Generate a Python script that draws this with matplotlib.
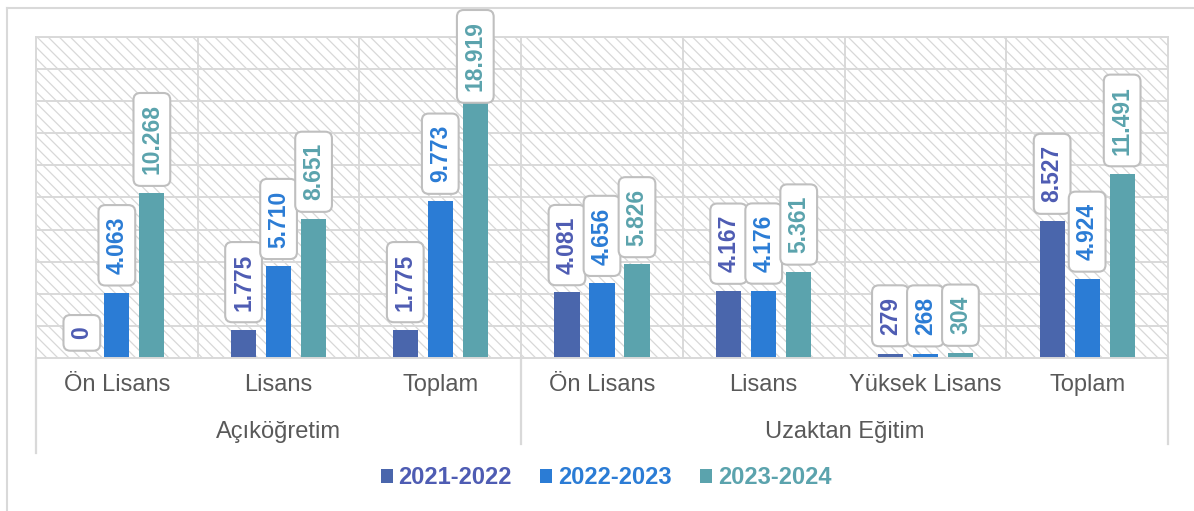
import matplotlib
matplotlib.use("Agg")
import matplotlib.pyplot as plt
from matplotlib.patches import Rectangle, Patch, BoxStyle
from matplotlib.lines import Line2D
from matplotlib.transforms import blended_transform_factory
import numpy as np

# ---- data ----
categories = ["Ön Lisans", "Lisans", "Toplam", "Ön Lisans", "Lisans", "Yüksek Lisans", "Toplam"]
groups = ["Açıköğretim", "Uzaktan Eğitim"]
group_sizes = [3, 4]
series_names = ["2021-2022", "2022-2023", "2023-2024"]
s_2021_2022 = [0, 1775, 1775, 4081, 4167, 279, 8527]
s_2022_2023 = [4063, 5710, 9773, 4656, 4176, 268, 4924]
s_2023_2024 = [10268, 8651, 18919, 5826, 5361, 304, 11491]

series = [s_2021_2022, s_2022_2023, s_2023_2024]
colors = ["#4A66AC", "#2B7CD5", "#5BA3AD"]
text_colors = ["#4E5CB3", "#2B7CD5", "#5BA3AD"]

plt.rcParams["font.family"] = ["Liberation Sans", "DejaVu Sans"]
plt.rcParams["hatch.color"] = "#D8D8D8"
plt.rcParams["hatch.linewidth"] = 0.9


class RoundXY(BoxStyle.Round):
    """Rounded box with extra padding along the text direction."""
    def __init__(self, pad=0.3, rounding_size=None, extra_x=0.2):
        super().__init__(pad=pad, rounding_size=rounding_size)
        self.extra_x = extra_x

    def __call__(self, x0, y0, width, height, mutation_size):
        e = self.extra_x * mutation_size
        return super().__call__(x0 - e, y0, width + 2 * e, height, mutation_size)


W, H, DPI = 1194, 511, 100
fig = plt.figure(figsize=(W / DPI, H / DPI), dpi=DPI)
fig.patch.set_facecolor("white")

x0, x1, y_top, y_base = 36, 1168, 37, 358
ax = fig.add_axes([x0 / W, 1 - y_base / H, (x1 - x0) / W, (y_base - y_top) / H])
ax_h_px = y_base - y_top

n = len(categories)
x = np.arange(n)
ax.set_xlim(-0.5, n - 0.5)
ax.set_ylim(0, 20000)

grid_c = "#D9D9D9"
bg = Rectangle((0, 0), 1, 1, transform=ax.transAxes, facecolor="white",
               edgecolor="#D8D8D8", hatch="\\\\\\", linewidth=0, zorder=0)
ax.add_patch(bg)
ax.set_facecolor("white")

for yv in np.arange(2000, 20001, 2000):
    ax.axhline(yv, color=grid_c, lw=1.4, zorder=1)
for b in np.arange(0.5, n - 0.5, 1):
    ax.axvline(b, color=grid_c, lw=1.4, zorder=1)

for s in ax.spines.values():
    s.set_color(grid_c)
    s.set_linewidth(1.4)
ax.set_xticks([])
ax.set_yticks([])

width = 0.155
step = 0.2165
offsets = [-step, 0, step]

fs_lab = 16.5
anns = []
for k, (vals, col, tcol) in enumerate(zip(series, colors, text_colors)):
    ax.bar(x + offsets[k], vals, width=width, color=col, zorder=2)
    for i, v in enumerate(vals):
        lab = f"{v:,}".replace(",", ".")
        a = ax.annotate(lab, xy=(x[i] + offsets[k], v), xytext=(0, 13.5),
                        textcoords="offset points", rotation=90,
                        ha="center", va="bottom", fontsize=fs_lab,
                        fontweight="bold", color=tcol, zorder=5,
                        annotation_clip=False,
                        bbox=dict(boxstyle=RoundXY(pad=0.3, rounding_size=0.3, extra_x=0.2),
                                  facecolor="white", edgecolor="#BFBFBF", lw=1.5))
        anns.append(a)

trans = blended_transform_factory(ax.transData, ax.transAxes)
for i, c in enumerate(categories):
    ax.text(x[i], -(385 - y_base) / ax_h_px, c, transform=trans, ha="center",
            va="center", fontsize=17, color="#595959")

start = 0
sep_positions = [-0.5]
for g, sz in zip(groups, group_sizes):
    center = start + (sz - 1) / 2
    ax.text(center, -(432 - y_base) / ax_h_px, g, transform=trans, ha="center",
            va="center", fontsize=17, color="#595959")
    start += sz
    sep_positions.append(start - 0.5)
for j, sp in enumerate(sep_positions):
    bottom_px = 453 if j == 0 else 444
    ax.plot([sp, sp], [0, -(bottom_px - y_base) / ax_h_px], transform=trans,
            color=grid_c, lw=1.6, clip_on=False, zorder=1)

fig.add_artist(Line2D([7 / W, 1], [1 - 8 / H, 1 - 8 / H], color="#D9D9D9", lw=1.5))
fig.add_artist(Line2D([7 / W, 7 / W], [0, 1 - 8 / H], color="#D9D9D9", lw=1.5))

handles = [Patch(facecolor=c, edgecolor="none") for c in colors]
leg = fig.legend(handles, series_names, loc="center", ncol=3,
                 bbox_to_anchor=(606 / W, 1 - 478 / H), frameon=False,
                 prop=dict(size=17, weight="bold"), handlelength=0.5,
                 handleheight=0.5, handletextpad=0.25, columnspacing=1.2)
for t, c in zip(leg.get_texts(), text_colors):
    t.set_color(c)

# keep labels inside chart area (clamped like the original)
fig.canvas.draw()
r = fig.canvas.get_renderer()
limit = H - 10
for a in anns:
    bb = a.get_bbox_patch().get_window_extent(r)
    if bb.y1 > limit:
        shift_pt = (bb.y1 - limit) * 72 / DPI
        a.xyann = (0, a.xyann[1] - shift_pt)

fig.savefig("out.png", dpi=DPI, facecolor="white")
